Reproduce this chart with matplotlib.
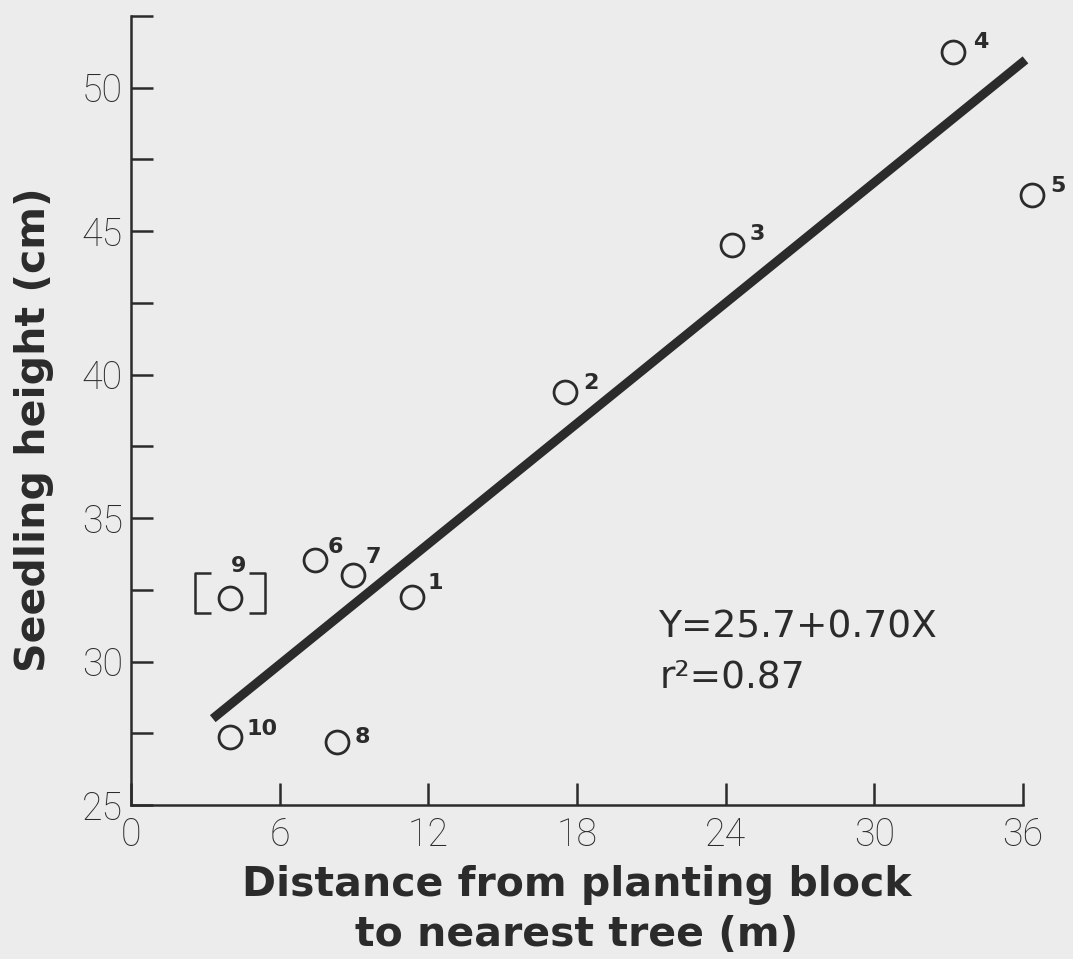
import matplotlib.pyplot as plt
from matplotlib.path import Path
from matplotlib.ticker import MultipleLocator

# tree number, distance from planting block to nearest tree (m), seedling height (cm)
tree_id = ["1", "2", "3", "4", "5", "6", "7", "8", "9", "10"]
distance = [11.34, 17.51, 24.25, 33.17, 36.36, 7.43, 8.96, 8.31, 4.0, 4.0]
height = [32.25, 39.40, 44.52, 51.25, 46.26, 33.54, 33.02, 27.20, 32.21, 27.37]

# regression Y = 25.7 + 0.70 X
fit_intercept = 25.7
fit_slope = 0.70
fit_span = [3.3, 36.1]
r_squared = 0.87

# tree set off in brackets
bracketed = "9"

INK = "#2b2b2b"
PAPER = "#ececec"
LIGHT = ["Roboto", "DejaVu Sans"]
PLAIN = ["DejaVu Sans"]

# label offsets from circle centre, in pixels (dx, dy up, ha)
label_offset = {
    "1": (16, 14, "left"), "2": (18, 9, "left"), "3": (18, 11, "left"),
    "4": (20, 10, "left"), "5": (18, 9, "left"), "6": (13, 13, "left"),
    "7": (12, 18, "left"), "8": (18, 5, "left"), "9": (8, 32, "center"),
    "10": (16, 8, "left"),
}

# "[ ]" marker drawn around a point (pixel units, scaled by markersize)
bracket_marker = Path(
    [(-19, 25), (-35, 25), (-35, -15), (-19, -15),
     (19, 25), (35, 25), (35, -15), (19, -15)],
    [Path.MOVETO, Path.LINETO, Path.LINETO, Path.LINETO,
     Path.MOVETO, Path.LINETO, Path.LINETO, Path.LINETO],
)

fig = plt.figure(figsize=(10.73, 9.59), dpi=100, facecolor=PAPER)
ax = fig.add_axes([131 / 1073, 1 - 805 / 959, (1023 - 131) / 1073, (805 - 16) / 959])
ax.set_facecolor("none")

fit_y = [fit_intercept + fit_slope * x for x in fit_span]
ax.plot(fit_span, fit_y, color=INK, linewidth=6.5, solid_capstyle="butt", clip_on=False, zorder=2)

ax.plot(distance, height, "o", markersize=16.5, markerfacecolor="none",
        markeredgecolor=INK, markeredgewidth=2.0, clip_on=False, zorder=3)

ib = tree_id.index(bracketed)
ax.plot([distance[ib]], [height[ib]], linestyle="none", marker=bracket_marker, markersize=50,
        markerfacecolor="none", markeredgecolor=INK, markeredgewidth=1.8, zorder=3)

for tid, x, y in zip(tree_id, distance, height):
    dx, dy, ha = label_offset[tid]
    ax.annotate(tid, (x, y), xytext=(dx, dy), textcoords="offset pixels",
                ha=ha, va="center", fontsize=16, fontweight="bold",
                family=PLAIN, color=INK, annotation_clip=False)

ax.text(658, 959 - 628, f"Y={fit_intercept}+{fit_slope:.2f}X", transform=None,
        ha="left", va="center", fontsize=27, family=PLAIN, color=INK)
ax.text(660, 959 - 677, f"r²={r_squared}", transform=None,
        ha="left", va="center", fontsize=27, family=PLAIN, color=INK)

ax.set_xlim(0, 36)
ax.set_ylim(25, 52.5)
ax.xaxis.set_major_locator(MultipleLocator(6))
ax.yaxis.set_major_locator(MultipleLocator(5))
ax.yaxis.set_minor_locator(MultipleLocator(2.5))

for side in ("top", "right"):
    ax.spines[side].set_visible(False)
for side in ("left", "bottom"):
    ax.spines[side].set_linewidth(1.8)
    ax.spines[side].set_color(INK)

ax.tick_params(which="both", direction="in", length=16, width=1.8, color=INK)
ax.tick_params(axis="y", pad=6)
ax.tick_params(axis="x", pad=8)
for lab in ax.get_xticklabels() + ax.get_yticklabels():
    lab.set_fontfamily(LIGHT)
    lab.set_fontweight("light")
    lab.set_fontsize(27)
    lab.set_color("#2b2b2b")

fig.text(577 / 1073, 1 - 885 / 959, "Distance from planting block", ha="center", va="center",
         fontsize=29.5, fontweight="bold", family=PLAIN, color=INK)
fig.text(577 / 1073, 1 - 935 / 959, "to nearest tree (m)", ha="center", va="center",
         fontsize=29.5, fontweight="bold", family=PLAIN, color=INK)
fig.text(34 / 1073, 1 - 430 / 959, "Seedling height (cm)", rotation=90, ha="center", va="center",
         fontsize=29.5, fontweight="bold", family=PLAIN, color=INK)

fig.savefig("out.png", dpi=100, facecolor=PAPER)
